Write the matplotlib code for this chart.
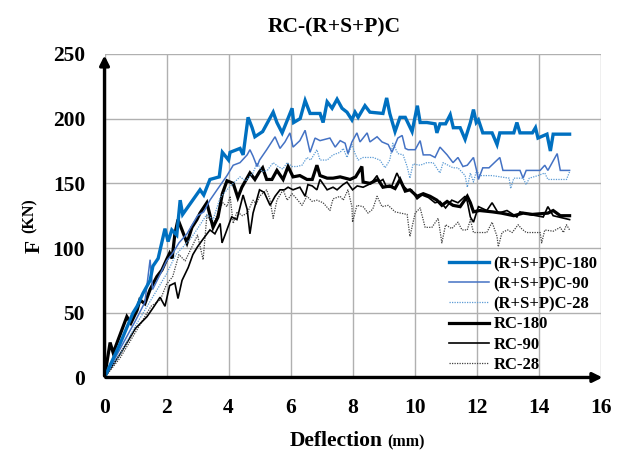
import numpy as np
import matplotlib
matplotlib.use('Agg')
import matplotlib.pyplot as plt

plt.rcParams['font.family'] = ['Liberation Serif', 'DejaVu Serif']
plt.rcParams['font.weight'] = 'bold'

# (deflection mm, force kN)
b180 = [(0, 0), (0.5, 26), (0.92, 50), (1.05, 55), (1.24, 65), (1.47, 75), (1.56, 86), (1.73, 92),
        (1.95, 115), (2.05, 105), (2.17, 114), (2.33, 110), (2.44, 137), (2.52, 126), (3.08, 145),
        (3.2, 141), (3.4, 153), (3.7, 155), (3.8, 174), (4.0, 168), (4.05, 174), (4.37, 177),
        (4.47, 172), (4.63, 201), (4.76, 193), (4.85, 186), (5.1, 190), (5.44, 205), (5.56, 197),
        (5.73, 189), (6.05, 208), (6.1, 197), (6.31, 200), (6.47, 214), (6.63, 204), (6.95, 204),
        (7.05, 197), (7.18, 213), (7.34, 208), (7.5, 215), (7.66, 208), (7.82, 205), (7.98, 199),
        (8.08, 205), (8.18, 201), (8.4, 210), (8.56, 205), (8.98, 204), (9.1, 216), (9.2, 204),
        (9.37, 190), (9.53, 201), (9.7, 201), (9.92, 190), (10.09, 210), (10.18, 197), (10.4, 197),
        (10.66, 196), (10.72, 189), (10.82, 196), (11.0, 196), (11.15, 203), (11.25, 193),
        (11.47, 193), (11.63, 184), (11.8, 197), (11.9, 207), (11.99, 197), (12.06, 199),
        (12.2, 189), (12.5, 189), (12.66, 180), (12.75, 189), (13.2, 189), (13.3, 197), (13.4, 189),
        (13.8, 189), (13.9, 193), (13.98, 185), (14.27, 188), (14.38, 175), (14.47, 188), (15.0, 188)]

b90 = [(0, 0), (0.5, 22), (1.0, 44), (1.3, 58), (1.47, 91), (1.55, 68), (1.8, 80), (2.0, 90),
       (2.2, 96), (2.4, 104), (2.66, 111), (3.0, 125), (3.2, 128), (3.4, 137), (3.63, 145),
       (3.95, 156), (4.15, 164), (4.37, 166), (4.6, 172), (4.69, 176), (4.79, 171), (4.92, 163),
       (5.0, 168), (5.23, 176), (5.5, 186), (5.66, 177), (5.82, 182), (5.98, 189), (6.08, 178),
       (6.3, 183), (6.47, 191), (6.63, 174), (6.79, 185), (6.95, 183), (7.27, 185), (7.44, 178),
       (7.6, 183), (7.76, 181), (7.85, 173), (7.98, 182), (8.14, 189), (8.24, 182), (8.34, 185),
       (8.47, 189), (8.56, 182), (8.79, 186), (8.95, 182), (9.15, 180), (9.27, 174), (9.46, 185),
       (9.6, 187), (9.7, 177), (9.79, 176), (10.02, 176), (10.18, 183), (10.28, 172), (10.5, 172),
       (10.66, 170), (10.82, 178), (11.05, 172), (11.24, 166), (11.4, 170), (11.56, 163),
       (11.7, 164), (11.9, 170), (12.0, 160), (12.06, 153), (12.2, 162), (12.4, 162), (12.75, 170),
       (12.85, 160), (13.4, 160), (13.5, 154), (13.6, 160), (14.05, 160), (14.2, 164), (14.3, 160),
       (14.6, 173), (14.7, 160), (15.0, 160)]

b28 = [(0, 0), (0.5, 18), (1.0, 40), (1.5, 60), (2.0, 80), (2.3, 95), (2.5, 100), (2.8, 108),
       (3.0, 115), (3.3, 126), (3.5, 122), (3.73, 139), (3.95, 145), (4.15, 150), (4.37, 155),
       (4.55, 152), (4.79, 158), (4.92, 166), (5.08, 159), (5.25, 160), (5.44, 166), (5.6, 163),
       (5.75, 161), (5.89, 166), (6.05, 163), (6.2, 163), (6.37, 164), (6.53, 170), (6.65, 168),
       (6.85, 176), (6.95, 168), (7.18, 168), (7.37, 172), (7.6, 174), (7.7, 177), (7.82, 170),
       (7.98, 180), (8.08, 173), (8.18, 168), (8.34, 170), (8.66, 170), (8.88, 168), (9.05, 162),
       (9.2, 168), (9.3, 181), (9.46, 173), (9.63, 172), (9.76, 163), (9.85, 154), (9.95, 165),
       (10.18, 164), (10.4, 166), (10.6, 166), (10.82, 158), (10.92, 166), (11.24, 162),
       (11.4, 162), (11.63, 156), (11.7, 147), (11.8, 158), (11.9, 151), (12.0, 160), (12.1, 156),
       (12.5, 156), (13.05, 154), (13.1, 146), (13.2, 154), (13.5, 154), (13.6, 149), (13.7, 154),
       (13.98, 156), (14.2, 158), (14.3, 153), (14.9, 153), (15.0, 159)]

k180 = [(0, 0), (0.18, 27), (0.28, 19), (0.5, 33), (0.72, 47), (0.85, 42), (1.05, 52), (1.14, 60),
        (1.3, 57), (1.47, 68), (1.69, 78), (1.85, 83), (2.0, 91), (2.1, 96), (2.18, 92), (2.27, 111),
        (2.37, 122), (2.5, 114), (2.66, 104), (2.82, 116), (2.98, 122), (3.08, 127), (3.3, 135),
        (3.5, 116), (3.66, 124), (3.8, 142), (3.95, 152), (4.15, 150), (4.3, 139), (4.43, 147),
        (4.69, 158), (4.85, 153), (5.0, 159), (5.1, 162), (5.23, 153), (5.4, 153), (5.56, 160),
        (5.76, 153), (5.92, 163), (6.08, 155), (6.3, 156), (6.53, 153), (6.7, 153), (6.85, 164),
        (6.95, 156), (7.18, 154), (7.37, 154), (7.6, 155), (7.92, 153), (8.1, 155), (8.3, 163),
        (8.34, 151), (8.56, 150), (8.82, 153), (8.98, 147), (9.2, 148), (9.37, 146), (9.53, 153),
        (9.7, 144), (9.85, 145), (10.08, 140), (10.28, 142), (10.5, 140), (10.72, 137),
        (10.88, 133), (11.05, 136), (11.24, 133), (11.47, 132), (11.7, 140), (11.8, 135),
        (11.9, 128), (12.1, 129), (12.5, 128), (12.8, 127), (13.2, 125), (13.5, 127), (13.8, 126),
        (14.3, 127), (14.47, 129), (14.7, 125), (15.0, 125)]

k90 = [(0, 0), (0.5, 18), (1.0, 38), (1.37, 47), (1.6, 55), (1.79, 62), (1.95, 55), (2.1, 71),
       (2.27, 73), (2.37, 61), (2.5, 75), (2.7, 85), (2.85, 95), (3.0, 101), (3.18, 107),
       (3.4, 114), (3.56, 111), (3.73, 119), (3.79, 104), (3.9, 111), (4.1, 124), (4.27, 122),
       (4.47, 141), (4.6, 130), (4.69, 111), (4.79, 127), (5.0, 145), (5.15, 143), (5.34, 133),
       (5.5, 140), (5.66, 145), (5.8, 145), (5.92, 147), (6.08, 145), (6.3, 147), (6.47, 140),
       (6.56, 149), (6.7, 148), (6.85, 145), (6.95, 153), (7.18, 145), (7.37, 147), (7.5, 145),
       (7.69, 149), (7.82, 151), (8.0, 145), (8.15, 148), (8.34, 147), (8.6, 150), (8.79, 156),
       (8.85, 151), (8.98, 153), (9.1, 147), (9.25, 147), (9.43, 158), (9.6, 149), (9.76, 145),
       (9.9, 145), (10.08, 138), (10.24, 141), (10.45, 139), (10.66, 135), (10.82, 136),
       (11.0, 131), (11.2, 137), (11.4, 135), (11.63, 140), (11.7, 136), (11.8, 124), (11.9, 120),
       (12.06, 132), (12.33, 129), (12.5, 135), (12.7, 127), (12.98, 129), (13.3, 124), (13.4, 128),
       (13.7, 126), (14.15, 124), (14.3, 132), (14.47, 125), (15.0, 122)]

k28 = [(0, 0), (0.5, 15), (1.0, 35), (1.5, 55), (1.8, 60), (2.0, 72), (2.2, 78), (2.4, 95),
       (2.6, 90), (2.8, 100), (3.0, 110), (3.18, 91), (3.3, 125), (3.5, 118), (3.7, 130),
       (3.82, 135), (3.95, 132), (4.05, 140), (4.15, 119), (4.27, 128), (4.45, 125), (4.6, 127),
       (4.79, 137), (4.9, 134), (5.0, 140), (5.23, 145), (5.33, 138), (5.44, 123), (5.56, 137),
       (5.76, 145), (5.89, 137), (6.05, 142), (6.2, 138), (6.37, 133), (6.53, 140), (6.7, 136),
       (6.85, 137), (7.05, 135), (7.27, 129), (7.37, 138), (7.6, 140), (7.7, 137), (7.85, 145),
       (7.98, 132), (8.0, 120), (8.14, 133), (8.34, 132), (8.5, 127), (8.65, 130), (8.79, 140),
       (8.95, 132), (9.15, 133), (9.37, 128), (9.55, 127), (9.76, 126), (9.85, 109), (10.02, 127),
       (10.18, 131), (10.34, 116), (10.56, 116), (10.76, 123), (10.88, 104), (11.0, 118),
       (11.2, 115), (11.4, 120), (11.53, 114), (11.7, 114), (11.8, 122), (11.9, 112), (12.33, 112),
       (12.5, 120), (12.66, 109), (12.7, 101), (12.82, 112), (13.0, 114), (13.15, 112),
       (13.34, 118), (13.45, 115), (13.6, 112), (14.05, 112), (14.1, 104), (14.2, 114),
       (14.47, 113), (14.7, 116), (14.8, 112), (14.9, 118), (15.0, 114)]

labels = ['(R+S+P)C-180', '(R+S+P)C-90', '(R+S+P)C-28', 'RC-180', 'RC-90', 'RC-28']
series = [b180, b90, b28, k180, k90, k28]
colors = ['#0070C0', '#4472C4', '#5B9BD5', 'black', 'black', '#404040']
widths = [2.4, 1.1, 0.9, 2.3, 1.2, 0.9]
styles = ['-', '-', (0, (1, 1)), '-', '-', (0, (1, 1))]

fig = plt.figure(figsize=(6.24, 4.57), dpi=100)
ax = fig.add_axes([0.1675, 0.174, 0.795, 0.708])

# draw the black ones first so the blue lines sit on top like the reference
order = [5, 4, 3, 2, 1, 0]
handles = {}
for i in order:
    x, y = np.array(series[i]).T
    line, = ax.plot(x, y, color=colors[i], lw=widths[i], linestyle=styles[i],
                    label=labels[i], solid_joinstyle='miter')
    handles[i] = line

ax.set_xlim(0, 16)
ax.set_ylim(0, 250)
ax.set_xticks(range(0, 17, 2))
ax.set_yticks(range(0, 251, 50))
ax.grid(True, color='#B0B0B0', lw=1)
ax.set_axisbelow(True)
for s in ax.spines.values():
    s.set_visible(False)
ax.tick_params(length=0, labelsize=15.5)
ax.tick_params(axis='y', pad=14)
ax.tick_params(axis='x', pad=15)

# axes with arrow heads
ax.annotate('', xy=(16.15, 0), xytext=(-0.05, 0), annotation_clip=False,
            arrowprops=dict(arrowstyle='-|>', lw=2.4, color='black', mutation_scale=14))
ax.annotate('', xy=(0, 251), xytext=(0, -1), annotation_clip=False,
            arrowprops=dict(arrowstyle='-|>', lw=2.4, color='black', mutation_scale=14))

leg = ax.legend([handles[i] for i in range(6)], labels, loc='upper left',
                bbox_to_anchor=(0.72, 0.44), bbox_transform=fig.transFigure,
                frameon=False, fontsize=12, handlelength=2.4, handletextpad=0.25,
                labelspacing=0.25, borderpad=0, borderaxespad=0)
for t in leg.get_texts():
    t.set_fontweight('bold')

fig.text(0.535, 0.94, 'RC-(R+S+P)C', ha='center', va='center', fontsize=15.5, fontweight='bold')
fig.text(0.614, 0.024, 'Deflection', ha='right', va='baseline', fontsize=15.5, fontweight='bold')
fig.text(0.62, 0.024, '(mm)', ha='left', va='baseline', fontsize=11.5, fontweight='bold')
fig.text(0.055, 0.475, 'F', rotation=90, ha='center', va='top', fontsize=15.5, fontweight='bold')
fig.text(0.048, 0.49, '(KN)', rotation=90, ha='center', va='bottom', fontsize=11.5, fontweight='bold')

fig.savefig('out.png', dpi=100)
